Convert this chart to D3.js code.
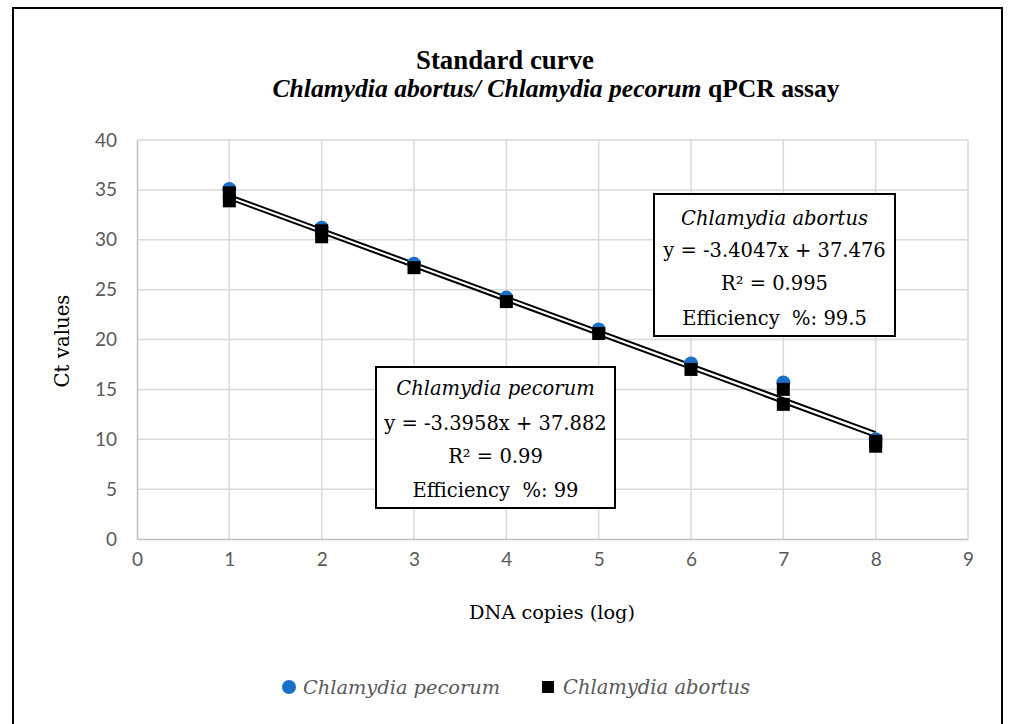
<!DOCTYPE html>
<html><head><meta charset="utf-8">
<script src="https://cdn.jsdelivr.net/npm/d3@7"></script>
<style>
body{margin:0;background:#fff;}
svg{display:block;}
</style></head>
<body>
<script>
// ---- data ----
const xTicks = [0,1,2,3,4,5,6,7,8,9];
const yTicks = [0,5,10,15,20,25,30,35,40];
const pecorumX = [1,2,3,4,5,6,7,8];
const pecorumY = [35.1,31.2,27.6,24.2,21.0,17.6,15.7,10.0];
const abortusX = [1,1,2,2,3,4,5,6,7,7,8,8];
const abortusY = [34.7,33.9,30.9,30.3,27.2,23.8,20.6,17.0,15.0,13.5,9.8,9.3];
const fitNames = ["Chlamydia pecorum","Chlamydia abortus"];
const fitSlopes = [-3.3958,-3.4047];
const fitIntercepts = [37.882,37.476];
const fitR2 = ["0.99","0.995"];
const fitEff = ["99","99.5"];
const titleLine1 = "Standard curve";
const xTitle = "DNA copies (log)";
const yTitle = "Ct values";

const W=1009,H=724;
const svg=d3.select("body").append("svg").attr("width",W).attr("height",H);
svg.append("rect").attr("x",13).attr("y",8).attr("width",989).attr("height",730)
  .attr("fill","#fff").attr("stroke","#000").attr("stroke-width",2);

const x=d3.scaleLinear().domain([0,9]).range([137,968]);
const y=d3.scaleLinear().domain([0,40]).range([539,140]);
const serif="'DejaVu Serif','Liberation Serif',serif";
const tserif="'Liberation Serif','DejaVu Serif',serif";
const sans="Lato,'Open Sans',sans-serif";

// fit a text element to a target width by adjusting font size
function fitWidth(sel,target){
  const n=sel.node();const w=n.getComputedTextLength();
  if(w>0){const fs=parseFloat(sel.attr("font-size"));sel.attr("font-size",(fs*target/w).toFixed(2));}
}

// gridlines
svg.append("g").selectAll("line").data(yTicks.filter(d=>d>0)).join("line")
  .attr("x1",x(0)).attr("x2",x(9)).attr("y1",d=>y(d)).attr("y2",d=>y(d))
  .attr("stroke","#d9d9d9").attr("stroke-width",1.5);
svg.append("g").selectAll("line").data(xTicks.filter(d=>d>0)).join("line")
  .attr("y1",y(0)).attr("y2",y(40)).attr("x1",d=>x(d)).attr("x2",d=>x(d))
  .attr("stroke","#d9d9d9").attr("stroke-width",1.5);

// axes
const xa=svg.append("g").attr("transform",`translate(0,${y(0)})`)
  .call(d3.axisBottom(x).tickValues(xTicks).tickSize(0).tickPadding(14).tickFormat(d3.format("d")));
const ya=svg.append("g").attr("transform",`translate(${x(0)},0)`)
  .call(d3.axisLeft(y).tickValues(yTicks).tickSize(0).tickPadding(20).tickFormat(d3.format("d")));
[xa,ya].forEach(g=>{
  g.select(".domain").attr("stroke","#bfbfbf").attr("stroke-width",1.5);
  g.selectAll("text").attr("font-family",sans).attr("font-size",19).attr("fill","#595959");
});

// trendlines
fitSlopes.forEach((m,i)=>{
  svg.append("line")
    .attr("x1",x(1)).attr("y1",y(m*1+fitIntercepts[i]))
    .attr("x2",x(8)).attr("y2",y(m*8+fitIntercepts[i]))
    .attr("stroke","#000").attr("stroke-width",2);
});

// points
const blue="#1a6fc9";
svg.append("g").selectAll("circle").data(pecorumX.map((d,i)=>[d,pecorumY[i]])).join("circle")
  .attr("cx",d=>x(d[0])).attr("cy",d=>y(d[1])).attr("r",7).attr("fill",blue);
svg.append("g").selectAll("rect").data(abortusX.map((d,i)=>[d,abortusY[i]])).join("rect")
  .attr("x",d=>x(d[0])-6.5).attr("y",d=>y(d[1])-6.5).attr("width",13).attr("height",13).attr("fill","#000");

// titles
const t1=svg.append("text").attr("font-family",tserif).attr("font-weight","bold").attr("text-anchor","middle")
  .attr("x",505).attr("y",69).attr("font-size",22).attr("fill","#000").text(titleLine1);
fitWidth(t1,178);
const t2=svg.append("text").attr("font-family",tserif).attr("font-weight","bold").attr("font-size",22)
  .attr("text-anchor","middle").attr("x",556).attr("y",97).attr("fill","#000");
t2.append("tspan").attr("font-style","italic").text("Chlamydia abortus/ Chlamydia pecorum");
t2.append("tspan").text(" qPCR assay");
fitWidth(t2,567);

const xt=svg.append("text").attr("font-family",serif).attr("font-size",20).attr("text-anchor","middle")
  .attr("x",552).attr("y",619).attr("fill","#000").text(xTitle);
fitWidth(xt,166);
const yt=svg.append("text").attr("font-family",serif).attr("font-size",20).attr("text-anchor","middle")
  .attr("transform","translate(69,341) rotate(-90)").attr("fill","#000").text(yTitle);
fitWidth(yt,93);

// equation boxes
const boxes=[
  {i:0,x0:376,y0:367,x1:615,y1:508,base:[395,430,463,497]},
  {i:1,x0:654,y0:194,x1:895,y1:336,base:[225,257,290,325]}
];
boxes.forEach(b=>{
  svg.append("rect").attr("x",b.x0).attr("y",b.y0).attr("width",b.x1-b.x0).attr("height",b.y1-b.y0)
    .attr("fill","#fff").attr("stroke","#000").attr("stroke-width",2);
  const cx=(b.x0+b.x1)/2;
  const lines=[fitNames[b.i],
    `y = ${fitSlopes[b.i]}x + ${fitIntercepts[b.i]}`,
    `R² = ${fitR2[b.i]}`,
    `Efficiency  %: ${fitEff[b.i]}`];
  lines.forEach((s,k)=>{
    svg.append("text").attr("font-family",serif).attr("font-size",19.5).attr("text-anchor","middle")
      .attr("x",cx).attr("y",b.base[k]).attr("fill","#000")
      .attr("font-style",k===0?"italic":"normal").attr("xml:space","preserve").text(s);
  });
});

// legend
svg.append("circle").attr("cx",289).attr("cy",687).attr("r",7).attr("fill",blue);
const l1=svg.append("text").attr("font-family",serif).attr("font-style","italic").attr("font-size",19)
  .attr("x",303).attr("y",694).attr("fill","#595959").text(fitNames[0]);
fitWidth(l1,197);
svg.append("rect").attr("x",542).attr("y",681).attr("width",12).attr("height",12).attr("fill","#000");
const l2=svg.append("text").attr("font-family",serif).attr("font-style","italic").attr("font-size",19)
  .attr("x",563).attr("y",694).attr("fill","#595959").text(fitNames[1]);
fitWidth(l2,187);
</script>
</body></html>
